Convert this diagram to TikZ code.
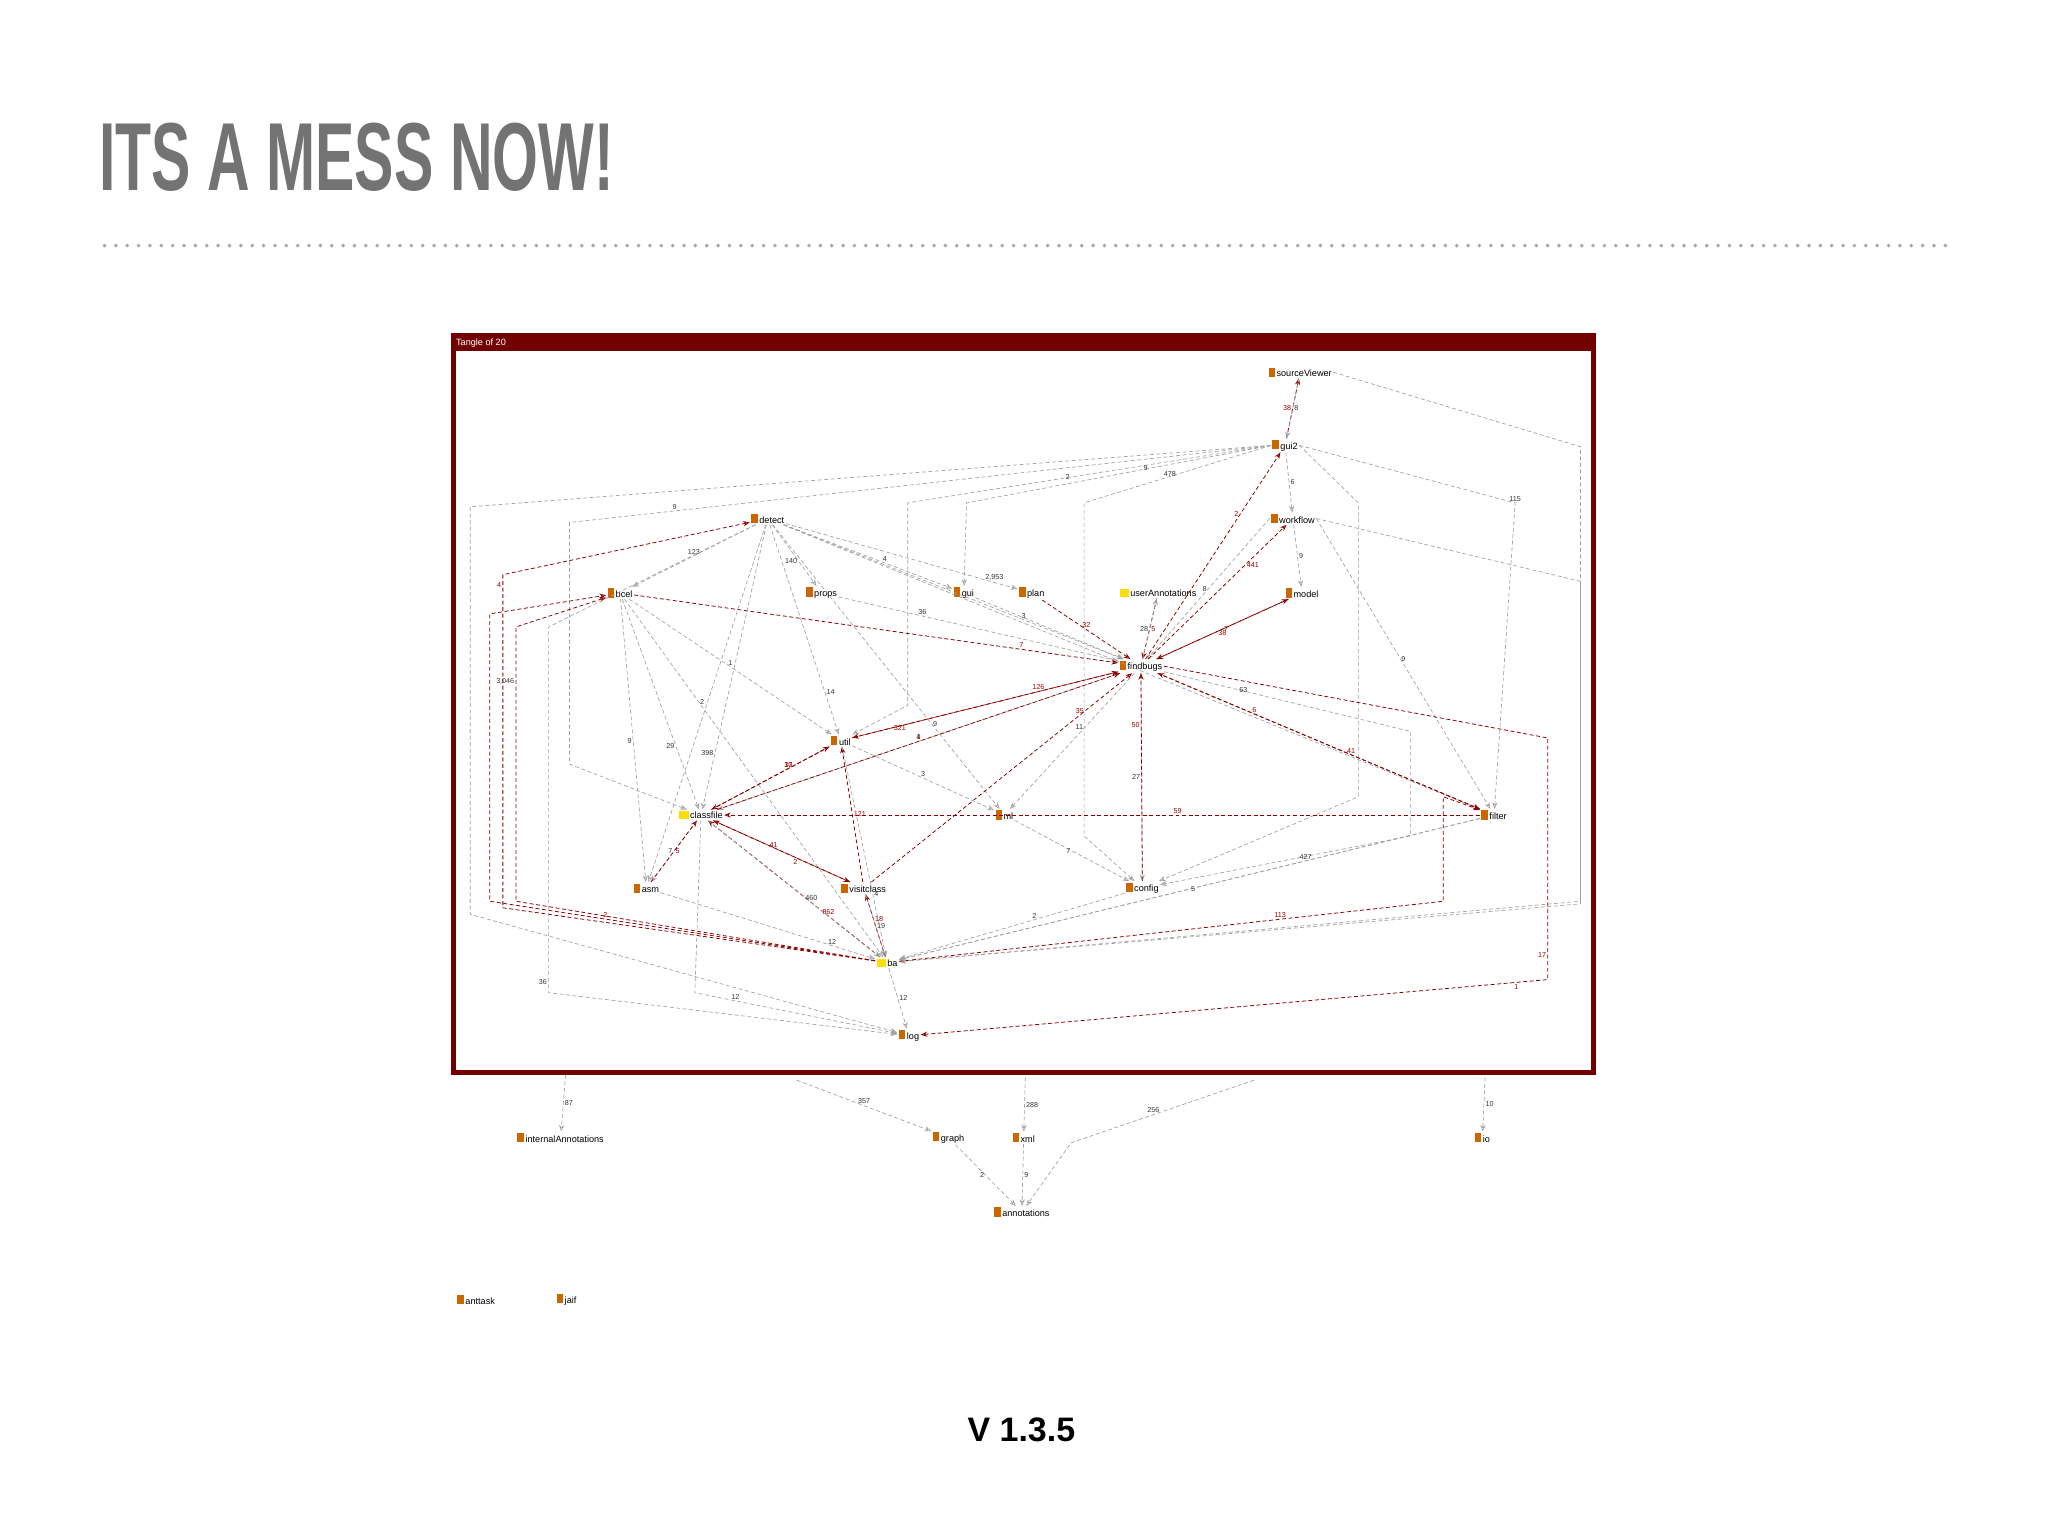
\documentclass[tikz,border=0pt]{standalone}
\usepackage{fontspec}
\setmainfont{Liberation Sans}
\usetikzlibrary{arrows.meta}
\newcommand\pkicon{{\color{orange!80!black}\rule{5pt}{7pt}}\,}
\newcommand\fdicon{{\color{yellow!80!orange}\rule{7pt}{6pt}}\,}
\tikzset{
 pk/.style={anchor=west,inner sep=1pt,font=\fontsize{7}{8}\selectfont},
 ge/.style={draw=gray!75,densely dashed,line width=0.5pt,-{Stealth[length=5pt,width=4pt,open]}},
 re/.style={draw=red!55!black,densely dashed,line width=0.6pt,-{Stealth[length=5pt,width=4pt,open]}},
 lb/.style={font=\fontsize{5.5}{6}\selectfont,text=black!80,inner sep=1pt},
 rl/.style={font=\fontsize{5.5}{6}\selectfont,text=red!60!black,inner sep=1pt},
}
\begin{document}
\begin{tikzpicture}[x=1pt,y=-1pt]
\useasboundingbox (0,0) rectangle (1568,1176);
\fill[white] (0,0) rectangle (1568,1176);
% title
\node[anchor=south west,inner sep=0,text=gray!90!black,font=\fontsize{74}{74}\selectfont\bfseries] (title) at (76,147) {\scalebox{0.61}[1]{ITS A MESS NOW!}};
\draw[gray!70,line width=3pt,line cap=round,dash pattern=on 0pt off 8.7pt] (80,188) -- (1490,188);
% frame
\draw[red!45!black,line width=4pt] (347,257) rectangle (1220,821);
\fill[red!45!black] (347,257) rectangle (1220,269);
\node[anchor=west,text=white,inner sep=1pt,font=\fontsize{7}{8}\selectfont] (tang) at (348,263) {Tangle of 20};
% nodes
\node[pk] (sourceViewer) at (970,285) {\pkicon sourceViewer};
\node[pk] (gui2) at (973,341) {\pkicon gui2};
\node[pk] (workflow) at (972,397) {\pkicon workflow};
\node[pk] (detect) at (574,397) {\pkicon detect};
\node[pk] (bcel) at (464,454) {\pkicon bcel};
\node[pk] (props) at (616,454) {\pkicon props};
\node[pk] (gui) at (729,454) {\pkicon gui};
\node[pk] (plan) at (779,454) {\pkicon plan};
\node[pk] (userAnnotations) at (856,454) {\fdicon userAnnotations};
\node[pk] (model) at (983,454) {\pkicon model};
\node[pk] (findbugs) at (856,510) {\pkicon findbugs};
\node[pk] (util) at (635,567) {\pkicon util};
\node[pk] (classfile) at (519,624) {\fdicon classfile};
\node[pk] (ml) at (761,624) {\pkicon ml};
\node[pk] (filter) at (1133,624) {\pkicon filter};
\node[pk] (asm) at (484,680) {\pkicon asm};
\node[pk] (visitclass) at (643,680) {\pkicon visitclass};
\node[pk] (config) at (861,680) {\pkicon config};
\node[pk] (ba) at (670,737) {\fdicon ba};
\node[pk] (log) at (687,793) {\pkicon log};
\node[pk] (internalAnnotations) at (395,871) {\pkicon internalAnnotations};
\node[pk] (graph) at (713,871) {\pkicon graph};
\node[pk] (xml) at (774,871) {\pkicon xml};
\node[pk] (io) at (1128,871) {\pkicon io};
\node[pk] (annotations) at (760,928) {\pkicon annotations};
\node[pk] (anttask) at (349,995) {\pkicon anttask};
\node[pk] (jaif) at (425,995) {\pkicon jaif};
\node[font=\fontsize{26}{26}\selectfont\bfseries] (ver) at (782,1095) {V 1.3.5};
% frame exits
\coordinate (f1) at (433,823); \coordinate (f2) at (610,827); \coordinate (f3) at (785,825);
\coordinate (f4) at (960,827); \coordinate (f5) at (1137,825);
% edges
\draw[re] (gui2) -- node[rl,left]{38} (sourceViewer);
\draw[ge] (sourceViewer) -- node[lb,right]{8} (gui2);
\draw[ge] (gui2) -- node[lb,right]{6} (workflow);
\draw[ge] (sourceViewer.east) -- (1210,342) -- (1210,692) -- (ba);
\draw[ge] (gui2.east) -- (1160,385) node[lb,above]{115} -- (filter);
\draw[ge] (gui2.west) -- (360,388) -- (360,700) -- (log);
\draw[ge] (gui2.west) -- node[lb,pos=0.85,above]{9} (436,400) -- (436,585) -- (classfile);
\draw[ge] (gui2.west) -- node[lb,pos=0.55,left]{2} (695,385) -- (695,540) -- (util);
\draw[ge] (gui2.west) -- node[lb,pos=0.4,left]{9} (740,385) -- (gui);
\draw[ge] (gui2.west) -- node[lb,pos=0.5,left]{478} (830,385) -- (830,640) -- (config);
\draw[ge] (gui2.east) -- (1040,385) -- (1040,610) -- (config);
\draw[ge] (workflow) -- node[lb,right]{9} (model);
\draw[ge] (workflow.east) -- node[lb,above]{9} (filter);
\draw[ge] (workflow.east) -- (1210,445) -- (1210,690) -- (ba);
\draw[ge] (workflow.west) -- node[lb,left]{8} (findbugs);
\draw[re] (findbugs) -- node[rl,pos=0.7,left]{2} (gui2);
\draw[re] (findbugs) -- node[rl,pos=0.7,right]{441} (workflow);
\draw[re] (findbugs) -- node[rl,pos=0.5,right]{7} (model);
\draw[re] (model) -- node[rl,pos=0.5,below]{38} (findbugs);
\draw[re] (userAnnotations) -- node[rl,pos=0.5,right]{5} (findbugs);
\draw[ge] (findbugs) -- node[lb,pos=0.5,left]{28} (userAnnotations);
\draw[re] (plan) -- node[rl,pos=0.5,above]{32} (findbugs);
\draw[ge] (gui) -- node[lb,pos=0.3,right]{3} (findbugs);
\draw[ge] (props) -- node[lb,pos=0.3,above]{36} (findbugs);
\draw[re] (bcel) -- node[rl,pos=0.8,above]{7} (findbugs);
\draw[ge] (detect) -- node[lb,above]{123} (bcel);
\draw[ge] (detect) -- node[lb,pos=0.6,left]{140} (props);
\draw[ge] (detect) -- node[lb,pos=0.6,above]{4} (gui);
\draw[ge] (detect) -- node[lb,pos=0.9,above]{2,953} (plan);
\draw[ge] (detect) -- (findbugs);
\draw[ge] (detect) -- node[lb,pos=0.8,left]{398} (classfile);
\draw[ge] (detect) -- node[lb,pos=0.8,right]{14} (util);
\draw[ge] (detect) -- (asm);
\draw[ge] (detect) -- (filter);
\draw[ge] (detect) -- node[lb,pos=0.7,right]{9} (ml);
\draw[re] (ba) -- (385,695) -- node[rl,pos=0.97,left]{4} (385,440) -- (detect);
\draw[re] (ba) -- (395,690) -- node[lb,pos=0.8,left]{3,046} (395,480) -- (bcel);
\draw[ge] (bcel) -- node[lb,pos=0.7,left]{29} (classfile);
\draw[ge] (bcel) -- node[lb,pos=0.5,above]{1} (util);
\draw[ge] (bcel) -- node[lb,pos=0.5,left]{9} (asm);
\draw[ge] (bcel) -- node[lb,pos=0.3,above]{2} (ba);
\draw[ge] (findbugs) -- node[lb,pos=0.5,above]{1} (classfile);
\draw[re] (util) -- node[rl,pos=0.7,above]{126} (findbugs);
\draw[re] (findbugs) -- node[rl,pos=0.85,right]{321} (util);
\draw[re] (classfile) -- node[rl,pos=0.5,above]{4} (findbugs);
\draw[re] (visitclass) -- node[rl,pos=0.8,above]{35} (findbugs);
\draw[re] (filter) -- node[rl,pos=0.4,above]{41} (findbugs);
\draw[re] (findbugs) -- node[rl,pos=0.3,above]{6} (filter);
\draw[re] (filter) -- node[rl,pos=0.4,above]{59} (classfile);
\draw[ge] (findbugs) -- node[lb,pos=0.5,left]{27} (config);
\draw[re] (config) -- node[rl,pos=0.75,left]{50} (findbugs);
\draw[ge] (findbugs) -- node[lb,pos=0.4,left]{11} (ml);
\draw[ge] (findbugs) -- node[lb,pos=0.3,right]{63} (1080,560) -- (1080,640) -- (config);
\draw[re] (classfile) -- node[rl,pos=0.7,left]{37} (util);
\draw[re] (util) -- node[rl,pos=0.3,left]{10} (classfile);
\draw[ge] (util) -- node[lb,pos=0.5,above]{3} (ml);
\draw[re] (visitclass) -- node[rl,pos=0.5,right]{121} (util);
\draw[ge] (util) -- node[lb,pos=0.7,right]{4} (ba);
\draw[re] (classfile) -- node[rl,pos=0.4,right]{41} (visitclass);
\draw[re] (visitclass) -- node[rl,pos=0.4,below]{2} (classfile);
\draw[ge] (classfile) -- node[lb,left]{7} (asm);
\draw[re] (asm) -- node[rl,right]{5} (classfile);
\draw[re] (ba) -- node[rl,pos=0.3,above]{862} (classfile);
\draw[ge] (classfile) -- node[lb,pos=0.6,above]{460} (ba);
\draw[re] (ba) -- node[rl,pos=0.6,right]{18} (visitclass);
\draw[ge] (visitclass) -- node[lb,right]{19} (ba);
\draw[ge] (asm) -- node[lb,pos=0.8,above]{12} (ba);
\draw[re] (ba) -- node[rl,pos=0.7,above]{2} (375,690) -- (375,470) -- (bcel);
\draw[ge] (ml) -- node[lb,left]{7} (config);
\draw[ge] (config) -- node[lb,pos=0.4,above]{2} (ba);
\draw[ge] (filter) -- node[lb,pos=0.3,above]{427} (ba);
\draw[re] (ba) -- node[rl,pos=0.7,above]{113} (1105,690) -- (1105,610) -- (filter);
\draw[ge] (filter) -- node[lb,pos=0.5,right]{5} (ba);
\draw[ge] (ba) -- node[lb,right]{12} (log);
\draw[ge] (classfile) -- (532,760) -- node[lb,pos=0.2,above]{12} (log);
\draw[ge] (detect) -- (420,480) -- node[lb,pos=0.97,left]{36} (420,760) -- (log);
\draw[re] (findbugs.east) -- (1185,565) -- node[rl,pos=0.9,left]{17} (1185,750) -- node[rl,pos=0.05,below]{1} (log);
\draw[ge] (f1) -- node[lb,right]{87} (internalAnnotations);
\draw[ge] (f2) -- node[lb,above]{357} (graph);
\draw[ge] (f3) -- node[lb,right]{288} (xml);
\draw[ge] (f4) -- node[lb,pos=0.55,above]{256} (820,875) -- (annotations);
\draw[ge] (f5) -- node[lb,right]{10} (io);
\draw[ge] (graph) -- node[lb,left]{2} (annotations);
\draw[ge] (xml) -- node[lb,right]{9} (annotations);
\end{tikzpicture}
\end{document}
